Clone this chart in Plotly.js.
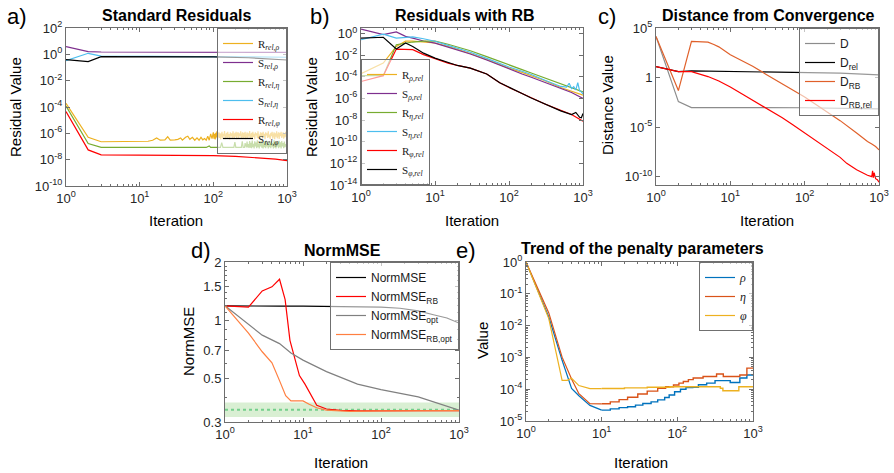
<!DOCTYPE html>
<html><head><meta charset="utf-8">
<script src="https://cdn.plot.ly/plotly-3.0.1.min.js"></script>
<style>html,body{margin:0;padding:0;background:#fff}#chart{width:894px;height:473px}</style>
</head><body><div id="chart"></div><script>
// ---------------- DATA ----------------
// a) Standard Residuals
const aRrhoX = [1,2,3,10,13,15,17,19,22,24,26,30,33,36,38,42,45,48,52,56,60,64,68,72,76,80,84,88,92,96,
  100,102,104,106,108,110,112,114,117,119,
  121,124,126,129,131,134,137,139,142,145,
  148,151,154,157,160,164,167,170,174,177,
  181,185,188,192,196,200,204,208,212,217,
  221,226,230,235,240,244,249,254,260,265,
  270,276,281,287,293,299,305,311,317,324,
  330,337,344,351,358,365,372,380,388,396,
  404,412,420,429,437,446,455,465,474,484,
  493,503,514,524,535,545,557,568,579,591,
  603,615,628,641,654,667,681,694,708,723,
  737,752,768,783,799,815,832,849,866,884,
  902,920,939,958,977,1000];
const aRrhoY = [1.9e-4,5e-7,2.3e-7,2.3e-7,2.5e-7,3e-7,4.5e-7,3e-7,3.2e-7,5.5e-7,3e-7,3.2e-7,3.5e-7,4.5e-7,3e-7,5e-7,6e-7,3.5e-7,5e-7,3e-7,4.5e-7,3e-7,5e-7,3.2e-7,4e-7,3e-7,6e-7,3e-7,9e-7,4e-7,
  1.2e-6,4e-7,9e-7,3.5e-7,1.1e-6,5e-7,1.4e-6,3.8e-7,8e-7,1.2e-6,
  4.5e-7,1e-6,3.5e-7,7e-7,1.3e-6,4e-7,9e-7,6e-7,1.5e-6,3.6e-7,
  8e-7,1.1e-6,4.2e-7,1.3e-6,5e-7,9e-7,3.5e-7,1.2e-6,6e-7,1e-6,
  3.8e-7,1.4e-6,7e-7,4e-7,1.1e-6,5.5e-7,1.3e-6,3.6e-7,9e-7,1.2e-6,
  4.5e-7,1e-6,6e-7,1.4e-6,3.8e-7,8e-7,1.2e-6,4.2e-7,1.1e-6,5e-7,
  1.3e-6,3.6e-7,9e-7,1.2e-6,4.5e-7,1e-6,6e-7,1.5e-6,3.8e-7,8e-7,
  1.1e-6,4e-7,1.3e-6,5.5e-7,9e-7,3.6e-7,1.2e-6,7e-7,1e-6,4.2e-7,
  1.4e-6,5e-7,8e-7,3.8e-7,1.2e-6,6e-7,1.1e-6,4e-7,1.3e-6,5.5e-7,
  9e-7,3.6e-7,1.2e-6,7e-7,1e-6,4.5e-7,1.4e-6,5e-7,8e-7,3.8e-7,
  1.1e-6,6e-7,1.3e-6,4e-7,9e-7,1.2e-6,3.6e-7,1e-6,5.5e-7,1.4e-6,
  4.2e-7,8e-7,1.2e-6,3.8e-7,1.1e-6,6e-7,1.3e-6,4.5e-7,9e-7,1.2e-6,
  4e-7,1e-6,5e-7,1.3e-6,6e-7,8e-7];
const aSrhoX = [1,2,3,10,100,300,1000];
const aSrhoY = [3.8,1.6,1.5,1.5,1.5,1.45,1.4];
const aRetaX = [1,2,3,80,88,92,125,130,135,190,196,202,240,247,254,
  260,265,270,276,281,287,293,299,305,311,
  317,324,330,337,344,351,358,365,372,380,
  388,396,404,412,420,429,437,446,455,465,
  474,484,493,503,514,524,535,545,557,568,
  579,591,603,615,628,641,654,667,681,694,
  708,723,737,752,768,783,799,815,832,849,
  866,884,902,920,939,958,977,1000];
const aRetaY = [1.2e-4,1.7e-7,8.5e-8,8.5e-8,1.1e-7,8.5e-8,8.5e-8,2e-7,8.5e-8,8.5e-8,2.2e-7,8.5e-8,8.5e-8,2.5e-7,8.5e-8,
  8.5e-8,8.5e-8,1.8e-7,8.5e-8,8.5e-8,2.4e-7,8.5e-8,1.5e-7,8e-8,2.6e-7,
  8e-8,1.9e-7,7.5e-8,2.8e-7,9e-8,1.6e-7,7e-8,2.5e-7,1e-7,2e-7,
  7.5e-8,2.9e-7,9e-8,1.7e-7,7e-8,2.4e-7,1e-7,2.7e-7,8e-8,1.8e-7,
  7e-8,2.6e-7,9e-8,2.1e-7,7.5e-8,2.8e-7,1e-7,1.7e-7,7e-8,2.5e-7,
  9e-8,2e-7,7.5e-8,2.7e-7,1e-7,1.8e-7,7e-8,2.9e-7,8.5e-8,2.2e-7,
  7e-8,2.5e-7,1e-7,1.9e-7,7.5e-8,2.7e-7,9e-8,2.1e-7,7e-8,2.6e-7,
  1e-7,1.8e-7,7.5e-8,2.4e-7,9e-8,1.5e-7,1.2e-7,9e-8];
const aSetaX = [1,2,3,10,100,300,1000];
const aSetaY = [0.33,1.2,0.72,0.72,0.7,0.65,0.6];
const aRphiX = [1,2,3,30,100,200,300,500,700,1000];
const aRphiY = [4.5e-5,5.5e-8,2.3e-8,2.2e-8,2e-8,1.8e-8,1.6e-8,1.3e-8,1.1e-8,8.5e-9];
const aSphiX = [1,2,3,10,100,300,1000];
const aSphiY = [0.4,0.28,0.66,0.66,0.64,0.55,0.37];

// b) Residuals with RB
const bX = [1,2,3,4,5,7,10,15,20,30,50,75,100,150,200,300,500,700,1000];
const bRrhoY = [1.9e-4,1.8e-3,0.063,0.19,0.19,0.16,0.13,0.063,0.035,0.014,4e-3,1.26e-3,6.3e-4,2.5e-4,1.26e-4,4.5e-5,1e-5,4.5e-6,2e-6];
const bSrhoY = [2.5,0.76,1.35,0.54,0.37,0.2,0.126,0.056,0.032,0.0126,3.5e-3,1.1e-3,5e-4,1.8e-4,8.9e-5,3.2e-5,7.9e-6,3.5e-6,1e-6];
const bRetaY = [1.26e-4,1.26e-4,0.091,0.13,0.16,0.19,0.19,0.1,0.056,0.025,7.1e-3,2.5e-3,1.1e-3,4.5e-4,2.2e-4,7.9e-5,2e-5,1e-5,4e-6];
const bSetaX = [1,2,3,4,5,7,10,15,20,30,50,75,100,150,200,300,500,600,650,700,750,800,850,900,950,1000];
const bSetaY = [0.26,0.87,0.37,0.44,0.47,0.32,0.19,0.079,0.045,0.018,5e-3,1.6e-3,7.9e-4,3.2e-4,1.6e-4,5e-5,1.26e-5,1.1e-5,2.5e-5,8e-6,1.2e-5,6e-6,2.8e-5,5e-6,4e-6,2.5e-6];
const bRphiY = [3.6e-5,1.26e-4,0.036,0.036,0.032,0.011,4.6e-3,1.8e-3,1.1e-3,6.3e-4,1.8e-4,2.8e-5,1e-5,2.8e-6,1.1e-6,3.2e-7,7.9e-8,3.2e-8,7.9e-9];
const bSphiX = [1,2,3,4,5,7,10,15,20,30,50,75,100,150,200,300,500,700,800,900,950,1000];
const bSphiY = [0.37,0.44,0.036,0.13,0.063,0.015,5.2e-3,2e-3,1.1e-3,6.3e-4,1.8e-4,2.8e-5,1e-5,2.8e-6,1.1e-6,3.2e-7,7e-8,3.2e-8,5e-8,1.8e-8,1.6e-8,4e-8];

// c) Distance from Convergence
const cDX = [1,2,3,10,100,1000];
const cDY = [1.4e4,3.7e-3,9.3e-4,9.3e-4,9e-4,7e-4];
const cDrelX = [1,2,3,10,100,300,1000];
const cDrelY = [13,4,4.7,4.2,3.2,2.8,1.9];
const cDrbX = [1,2,3,4,5,6,7,10,15,20,30,50,70,100,150,200,257,300,500,650,700,800,900,1000];
const cDrbY = [1.4e4,0.049,4400,4400,3800,2200,1250,200,45,14,2.2,0.25,0.05,0.011,1.4e-3,3.5e-4,1e-4,4.5e-5,2.5e-6,5e-7,3.5e-7,2e-7,1.1e-7,5e-8];
const cDrbrelX = [1,2,3,4,5,7,10,15,20,30,50,70,100,150,200,300,368,500,700,800,820,840,860,900,950,1000];
const cDrbrelY = [13,4,4,2.3,1.26,0.45,0.11,0.018,5e-3,8e-4,8.9e-5,1.6e-5,2.5e-6,3.2e-7,7e-8,8.9e-9,2.2e-9,5e-10,1.4e-10,1e-10,4e-10,8e-11,2.5e-10,6.3e-11,5e-11,2.8e-11];

// d) NormMSE
const dMseX = [1,2,3,5,10,20,30,50,100,175,300,470,700,1000];
const dMseY = [1.19,1.185,1.185,1.185,1.185,1.183,1.18,1.178,1.17,1.156,1.12,1.07,1.03,0.97];
const dRbX = [1,2,3,4,5,5.9,6.8,7.9,9,10.6,15,20,30,50,100,300,1000];
const dRbY = [1.19,1.17,1.42,1.49,1.63,1.28,0.79,0.625,0.52,0.47,0.366,0.35,0.344,0.342,0.343,0.343,0.343];
const dOptX = [1,2,3,5,7,10,20,50,100,300,1000];
const dOptY = [1.19,0.95,0.84,0.76,0.68,0.625,0.545,0.47,0.44,0.404,0.345];
const dRbOptX = [1,2,3,4,5,6,7,10,12,15,20,40,100,1000];
const dRbOptY = [1.19,0.86,0.69,0.605,0.49,0.41,0.385,0.385,0.37,0.355,0.345,0.34,0.342,0.343];
const dBandX = [1,1000];
const dBandLow = 0.318, dBandHigh = 0.378, dTarget = 0.347;

// e) Trend of the penalty parameters
const eRhoSmoothX = [1,2,3,4,5,7,10];
const eRhoSmoothY = [1,0.0186,8.1e-4,1.05e-4,6.2e-5,3.1e-5,2.19e-5];
const eRhoStepX = [10,13,17,22,28,35,45,55,68,78,92,110,130,160,190,244,315,500,670,830,1000];
const eRhoStepY = [2.19e-5,2.4e-5,2.63e-5,2.8e-5,3.16e-5,3.55e-5,4e-5,4.6e-5,5.5e-5,6.6e-5,8.3e-5,1e-4,1.12e-4,1.15e-4,1.38e-4,1.55e-4,1.86e-4,1.62e-4,2.24e-4,2.8e-4,2.8e-4];
const eEtaSmoothX = [1,2,3,4,5,7,10];
const eEtaSmoothY = [1,0.025,1.02e-3,2.1e-4,7.2e-5,3.5e-5,3.47e-5];
const eEtaStepX = [10,13,17,22,30,40,55,70,89,105,120,140,162,219,330,405,670,830,1000];
const eEtaStepY = [3.47e-5,4e-5,4.7e-5,5.6e-5,7.1e-5,8.7e-5,1.07e-4,1.2e-4,1.35e-4,1.55e-4,1.74e-4,2e-4,2.24e-4,2.5e-4,3e-4,2.5e-4,2.8e-4,4.6e-4,4.6e-4];
const ePhiSmoothX = [1,2,3,3.5,4,5,7,10];
const ePhiSmoothY = [1,0.0166,1.9e-4,1.9e-4,2.2e-4,1.3e-4,1.05e-4,1.05e-4];
const ePhiStepX = [10,20,40,80,370,400,650,1000];
const ePhiStepY = [1.05e-4,1.1e-4,1.15e-4,1.2e-4,1.07e-4,8.9e-5,1.2e-4,1.2e-4];

// ---------------- LAYOUT HELPERS ----------------
const W = 894, H = 473;
const SANS = 'Liberation Sans, Arial, sans-serif';
const SERIF = 'Liberation Serif, Times New Roman, serif';
const AXC = '#6e6e6e';
function fx(p){return p/W;}
function fy(p){return 1-p/H;}
function decTicks(lo, hi){const v=[],t=[];for(let e=lo;e<=hi;e++){v.push(Math.pow(10,e));t.push('10<sup>'+e+'</sup>');}return {v,t};}
function decStep(lo, hi, st){const v=[],t=[];for(let e=lo;e<=hi;e+=st){v.push(Math.pow(10,e));t.push('10<sup>'+e+'</sup>');}return {v,t};}
function minorLog(lo, hi){const v=[];for(let e=lo;e<hi;e++){for(let m=2;m<=9;m++)v.push(m*Math.pow(10,e));}return v;}
const xt = decTicks(0,3);
function xAxis(d0,d1,anchor){
  return {type:'log', domain:[fx(d0),fx(d1)], anchor, range:[0,3], tickvals:xt.v, ticktext:xt.t,
    ticks:'inside', ticklen:4, tickcolor:AXC, showline:true, linecolor:AXC, linewidth:1, mirror:'ticks',
    showgrid:false, zeroline:false, tickfont:{family:SANS,size:13,color:'#262626'},
    minor:{tickvals:minorLog(0,3), ticks:'inside', ticklen:2, tickcolor:AXC}};
}
function yAxis(d0,d1,anchor,range,tv,tt,minor){
  const ax = {type:'log', domain:[fy(d1),fy(d0)], anchor, range, tickvals:tv, ticktext:tt,
    ticks:'inside', ticklen:4, tickcolor:AXC, showline:true, linecolor:AXC, linewidth:1, mirror:'ticks',
    showgrid:false, zeroline:false, tickfont:{family:SANS,size:13,color:'#262626'}};
  if(minor) ax.minor = {tickvals:minor, ticks:'inside', ticklen:2, tickcolor:AXC};
  return ax;
}
const traces = [];
function add(x,y,name,color,xa,ya,leg,extra){
  traces.push(Object.assign({type:'scatter',mode:'lines',x,y,name,line:{color,width:1.2},xaxis:xa,yaxis:ya,legend:leg,hoverinfo:'skip'},extra||{}));
}
const YEL='#EDB120', PUR='#7E2F8E', GRN='#77AC30', CYA='#4DBEEE', RED='#FF0000', BLK='#000000';

// a
add(aRrhoX,aRrhoY,'R<sub><i>rel,ρ</i></sub>',YEL,'x','y','legend');
add(aSrhoX,aSrhoY,'S<sub><i>rel,ρ</i></sub>',PUR,'x','y','legend');
add(aRetaX,aRetaY,'R<sub><i>rel,η</i></sub>',GRN,'x','y','legend');
add(aSetaX,aSetaY,'S<sub><i>rel,η</i></sub>',CYA,'x','y','legend');
add(aRphiX,aRphiY,'R<sub><i>rel,φ</i></sub>',RED,'x','y','legend');
add(aSphiX,aSphiY,'S<sub><i>rel,φ</i></sub>',BLK,'x','y','legend');
// b
add(bX,bRrhoY,'R<sub><i>ρ,rel</i></sub>',YEL,'x2','y2','legend2');
add(bX,bSrhoY,'S<sub><i>ρ,rel</i></sub>',PUR,'x2','y2','legend2');
add(bX,bRetaY,'R<sub><i>η,rel</i></sub>',GRN,'x2','y2','legend2');
add(bSetaX,bSetaY,'S<sub><i>η,rel</i></sub>',CYA,'x2','y2','legend2');
add(bX,bRphiY,'R<sub><i>φ,rel</i></sub>',RED,'x2','y2','legend2');
add(bSphiX,bSphiY,'S<sub><i>φ,rel</i></sub>',BLK,'x2','y2','legend2');
// c
add(cDX,cDY,'D','#8c8c8c','x3','y3','legend3');
add(cDrelX,cDrelY,'D<sub>rel</sub>',BLK,'x3','y3','legend3');
add(cDrbX,cDrbY,'D<sub>RB</sub>','#E0602A','x3','y3','legend3');
add(cDrbrelX,cDrbrelY,'D<sub>RB,rel</sub>',RED,'x3','y3','legend3');
// d
add([dBandX[0],dBandX[1],dBandX[1],dBandX[0],dBandX[0]],[dBandLow,dBandLow,dBandHigh,dBandHigh,dBandLow],'band','rgba(0,0,0,0)','x4','y4','legend4',
  {fill:'toself',fillcolor:'rgba(140,205,120,0.33)',line:{width:0,color:'rgba(0,0,0,0)'},showlegend:false});
add(dBandX,[dTarget,dTarget],'target','#74cf8c','x4','y4','legend4',{line:{color:'#74cf8c',width:2,dash:'dot'},showlegend:false});
add(dMseX,dMseY,'NormMSE',BLK,'x4','y4','legend4');
add(dRbX,dRbY,'NormMSE<sub>RB</sub>',RED,'x4','y4','legend4');
add(dOptX,dOptY,'NormMSE<sub>opt</sub>','#808080','x4','y4','legend4');
add(dRbOptX,dRbOptY,'NormMSE<sub>RB,opt</sub>','#FF7F40','x4','y4','legend4');
// e
add(eRhoSmoothX,eRhoSmoothY,'<i>ρ</i>','#0072BD','x5','y5','legend5',{legendgroup:'rho'});
add(eEtaSmoothX,eEtaSmoothY,'<i>η</i>','#D95319','x5','y5','legend5',{legendgroup:'eta'});
add(ePhiSmoothX,ePhiSmoothY,'<i>φ</i>','#EDB120','x5','y5','legend5',{legendgroup:'phi'});
add(eRhoStepX,eRhoStepY,'ρ step','#0072BD','x5','y5','legend5',{legendgroup:'rho',showlegend:false,line:{color:'#0072BD',width:1.4,shape:'hv'}});
add(eEtaStepX,eEtaStepY,'η step','#D95319','x5','y5','legend5',{legendgroup:'eta',showlegend:false,line:{color:'#D95319',width:1.4,shape:'hv'}});
add(ePhiStepX,ePhiStepY,'φ step','#EDB120','x5','y5','legend5',{legendgroup:'phi',showlegend:false,line:{color:'#EDB120',width:1.4,shape:'hv'}});

const ya = decStep(-10,2,2);
const yb = decStep(-14,0,2);
const yc = {v:[1e-10,1e-5,1,1e5], t:['10<sup>-10</sup>','10<sup>-5</sup>','1','10<sup>5</sup>']};
const yd = {v:[0.3,0.5,0.7,1,1.5,2], t:['0.3','0.5','0.7','1','1.5','2']};
const ye = decTicks(-5,0);
const ydMinor = [0.4,0.6,0.8,0.9,1.1,1.2,1.3,1.4,1.6,1.7,1.8,1.9];

function legendBox(x,y,xa,ya,font,size){
  return {x:fx(x), y:fy(y), xanchor:xa, yanchor:ya, xref:'paper', yref:'paper',
    bgcolor:'rgba(255,255,255,0.6)', bordercolor:'#707070', borderwidth:1,
    font:{family:font,size:size,color:'#1a1a1a'}, itemwidth:30, tracegroupgap:0, traceorder:'normal'};
}
function ann(text,x,y,size,extra){
  return Object.assign({text, x:fx(x), y:fy(y), xref:'paper', yref:'paper', showarrow:false,
    xanchor:'center', yanchor:'middle', font:{family:SANS,size:size,color:'#000'}}, extra||{});
}

const layout = {
  width:W, height:H, margin:{l:0,r:0,t:0,b:0}, paper_bgcolor:'#fff', plot_bgcolor:'#fff', showlegend:true,
  xaxis: xAxis(66,287,'y'),
  yaxis: yAxis(28,186,'x',[-10,2],ya.v,ya.t),
  xaxis2: xAxis(361,583,'y2'),
  yaxis2: yAxis(28,185,'x2',[-14,0.5],yb.v,yb.t),
  xaxis3: xAxis(656,879,'y3'),
  yaxis3: yAxis(28,185,'x3',[-10.84,5],yc.v,yc.t),
  xaxis4: xAxis(225,459,'y4'),
  yaxis4: yAxis(262,422,'x4',[Math.log10(0.3),Math.log10(2)],yd.v,yd.t,ydMinor),
  xaxis5: xAxis(526,753,'y5'),
  yaxis5: yAxis(262,421,'x5',[-5,0],ye.v,ye.t,minorLog(-5,0)),
  legend: legendBox(287,28,'right','top',SERIF,11),
  legend2: legendBox(361,185,'left','bottom',SERIF,11),
  legend3: legendBox(879,28,'right','top',SANS,12),
  legend4: legendBox(459,262,'right','top',SANS,12),
  legend5: legendBox(753,262,'right','top',SERIF,12),
  annotations: [
    ann('a)',17,17,22), ann('b)',320,17,22), ann('c)',607,17,22), ann('d)',201,250,22), ann('e)',466,250,22),
    ann('<b>Standard Residuals</b>',176,15,16),
    ann('<b>Residuals with RB</b>',465,15,16),
    ann('<b>Distance from Convergence</b>',768,15,16),
    ann('<b>NormMSE</b>',342,250,16),
    ann('<b>Trend of the penalty parameters</b>',642,249,16),
    ann('Iteration',176,221,15), ann('Iteration',472,221,15), ann('Iteration',767,221,15),
    ann('Iteration',341,462,15), ann('Iteration',641,462,15),
    ann('Residual Value',15,107,15,{textangle:-90}),
    ann('Residual Value',311,107,15,{textangle:-90}),
    ann('Distance Value',608,105,15,{textangle:-90}),
    ann('NormMSE',188,342,15,{textangle:-90}),
    ann('Value',482,341,15,{textangle:-90})
  ]
};
Plotly.newPlot('chart', traces, layout, {staticPlot:true, displayModeBar:false});
</script></body></html>
